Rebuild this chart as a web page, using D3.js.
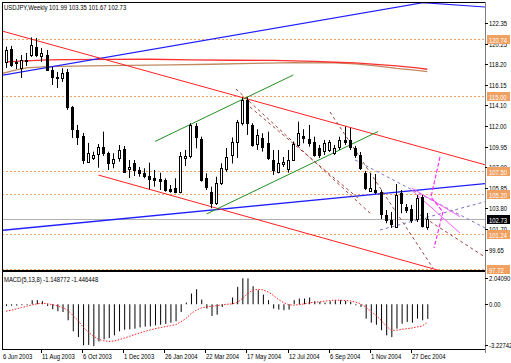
<!DOCTYPE html>
<html><head><meta charset="utf-8">
<script src="https://cdn.jsdelivr.net/npm/d3@7"></script>
<style>body{margin:0;background:#fff}svg{display:block}</style>
</head><body>
<svg id="c" width="511" height="363"></svg>
<script>
// ---------- DATA ----------
const title = "USDJPY,Weekly  101.99 103.35 101.67 102.73";
const openP  = [118.46,119.73,118.43,117.83,118.48,119.13,119.96,119.03,119.13,117.63,116.88,116.80,117.43,113.91,111.64,111.04,108.47,108.87,109.24,109.91,109.31,108.37,108.81,109.71,107.71,108.37,107.64,107.37,107.04,106.84,106.71,106.64,105.71,105.81,105.47,108.81,109.04,112.04,110.71,106.81,105.47,104.32,106.31,107.71,109.14,110.47,112.31,114.64,112.14,110.24,110.81,110.37,108.64,107.47,108.24,107.71,108.64,110.14,111.04,110.71,110.47,109.81,109.57,109.64,109.31,109.91,110.64,110.64,109.84,109.14,107.34,105.54,105.64,105.47,103.15,102.65,101.98,105.31,103.95,103.75,102.75,104.94,101.99];
const highP  = [119.96,120.03,118.73,119.13,119.33,120.88,120.83,119.83,119.63,117.93,117.43,117.80,117.73,114.04,112.14,111.34,110.34,109.47,110.24,111.47,109.47,109.31,110.14,110.04,108.64,108.64,107.94,107.81,108.37,107.64,107.37,106.81,106.14,106.81,109.44,109.64,112.31,112.31,110.97,107.31,105.97,106.97,108.31,109.84,110.89,112.64,114.88,114.90,112.31,111.71,111.31,111.47,109.64,109.64,108.94,109.64,110.47,112.47,111.71,112.14,110.97,110.14,110.64,110.64,110.14,110.97,111.97,111.84,110.04,109.44,107.54,107.31,107.24,105.64,103.65,103.45,106.24,105.64,104.25,104.15,105.14,105.14,103.35];
const lowP   = [117.83,117.93,117.73,116.83,118.03,118.93,118.93,118.43,117.53,116.13,115.83,116.43,113.64,110.84,110.14,108.24,108.34,108.64,107.87,109.04,107.64,107.81,108.47,107.34,106.84,107.04,106.97,106.81,105.71,105.97,105.64,105.47,105.37,105.31,105.31,108.04,108.81,109.81,106.47,105.64,103.82,104.15,106.14,107.47,108.29,108.84,112.09,111.14,109.97,109.64,109.47,108.64,107.14,107.31,107.94,107.37,108.57,109.97,110.31,109.97,108.97,108.84,109.14,109.44,109.14,109.64,110.14,109.64,108.84,107.64,105.64,105.44,105.24,102.75,102.32,101.85,101.90,103.32,103.35,102.35,102.45,101.90,101.67];
const closeP = [119.63,118.13,118.28,118.63,118.58,120.13,119.13,119.30,117.63,116.96,116.80,117.36,113.94,111.71,110.91,108.64,109.37,109.14,109.91,109.37,108.37,108.71,109.64,107.47,107.97,107.64,107.37,107.04,106.71,106.64,106.57,105.64,105.54,105.47,109.04,109.04,112.14,110.94,106.64,105.91,104.38,106.37,107.81,108.97,110.44,112.39,114.59,112.31,110.14,111.14,109.91,108.81,107.64,108.37,108.47,108.64,110.24,111.37,110.81,110.37,109.14,109.14,110.31,110.47,109.87,110.64,110.44,109.94,109.14,107.84,105.84,105.89,105.44,103.25,102.65,102.20,105.14,104.32,103.60,102.65,104.84,102.00,102.73];

const macdMain = [-0.13,-0.11,-0.11,-0.08,-0.05,0.32,0.32,0.24,-0.13,-0.39,-0.55,-0.61,-1.26,-2.13,-2.58,-3.23,-3.20,-3.29,-2.92,-2.76,-2.66,-2.45,-2.13,-2.00,-1.97,-1.92,-1.82,-1.76,-1.74,-1.66,-1.61,-1.55,-1.45,-1.34,-0.61,0.13,0.84,1.18,0.37,-0.34,-0.92,-0.82,-0.21,0.00,0.53,1.37,2.04,2.03,1.42,1.11,0.76,0.32,-0.34,-0.42,-0.47,-0.42,0.32,0.45,0.45,0.53,0.24,0.18,0.13,0.24,0.32,0.32,0.26,0.18,-0.08,-0.21,-1.13,-1.45,-1.61,-2.05,-2.45,-2.58,-1.92,-1.53,-1.39,-1.45,-1.13,-1.26,-1.149];
const macdSignal = [-0.55,-0.47,-0.37,-0.26,-0.16,-0.05,0.03,0.08,0.05,-0.03,-0.13,-0.26,-0.47,-0.87,-1.26,-1.79,-2.18,-2.50,-2.76,-2.87,-2.92,-2.89,-2.79,-2.66,-2.53,-2.39,-2.26,-2.13,-2.03,-1.92,-1.84,-1.76,-1.68,-1.61,-1.39,-1.13,-0.74,-0.47,-0.29,-0.21,-0.16,-0.11,-0.05,0.00,0.03,0.13,0.45,0.84,1.11,1.18,1.13,0.97,0.71,0.39,0.13,-0.03,-0.08,-0.03,0.03,0.11,0.16,0.18,0.24,0.29,0.32,0.32,0.29,0.26,0.18,0.05,-0.21,-0.55,-0.87,-1.26,-1.71,-2.05,-2.05,-1.97,-1.92,-1.87,-1.79,-1.71,-1.446];
const macdLabel = "MACD(5,13,8)  -1.148772  -1.446448";

// moving averages, read at sampled bars [barIndex, price]
const maRed   = [[0,118.43],[4,118.53],[8,118.63],[12,118.66],[20,118.68],[28,118.70],[36,118.63],[44,118.60],[52,118.58],[60,118.48],[64,118.40],[68,118.33],[72,118.18],[76,118.03],[80,117.83],[82,117.70]];
const maBrown = [[-1,117.25],[2,117.63],[4,117.83],[8,117.96],[16,118.03],[24,118.08],[32,118.13],[40,118.20],[48,118.28],[56,118.36],[64,118.33],[68,118.23],[72,118.03],[76,117.78],[80,117.58],[82,117.46]];

// trend lines [barIndex, price]
const blueUpper  = [[-0.78,117.10],[81.16,124.35],[93.23,123.92]];
const blueLower  = [[-0.78,101.61],[93.23,106.28]];
const redUpper   = [[-0.78,121.52],[93.23,108.16]];
const redLower   = [[17.96,107.14],[84.47,97.58]];
const greenUpper = [[29.0,110.49],[55.92,117.13]];
const greenLower = [[39.06,103.25],[72.40,111.48]];
const darkDashA  = [[44.76,115.73],[71.23,103.15]];
const darkDashB  = [[47.49,113.93],[68.57,104.81]];
const darkDashC  = [[63.06,113.43],[83.11,97.85]];
const darkDashD  = [[80.58,103.15],[93.23,98.95]];
const lavDash1   = [[67.93,108.64],[93.23,101.85]];
const lavDash2   = [[72.79,101.65],[93.23,104.47]];
const pinkZig    = [[84.47,108.94],[82.72,104.94],[85.05,103.45],[83.3,99.85]];
const pinkLine1  = [[78.96,105.84],[88.36,102.98]];
const pinkLine2  = [[78.96,105.64],[88.36,101.35]];

const levels = [120.74, 115.00, 107.50, 105.20, 101.24, 97.72];
const levelText = ["120.74","115.00","107.50","105.20","101.24","97.72"];
const lastPrice = 102.73;
const priceTicks = [122.35,120.25,118.20,116.15,114.10,112.00,109.95,107.90,105.85,103.80,101.70,99.65];
const macdTicks = [2.04090, 0.00, -3.22742];
const macdTickText = ["2.04090","0.00","-3.22742"];
const dateLabels = ["11 Aug 2003","6 Oct 2003","1 Dec 2003","26 Jan 2004","22 Mar 2004","17 May 2004","12 Jul 2004","6 Sep 2004","1 Nov 2004","27 Dec 2004"];
const dateIdx = [7,15,23,31,39,47,55,63,71,79];
const firstDate = "6 Jun 2003";

// ---------- LAYOUT ----------
const svg = d3.select("#c");
const L = 2, R = 485, T = 2, MB = 271, MT = 272, BB = 349;
const FONT = "'Liberation Sans',Arial,sans-serif";
const SX = 0.74;
const x = d3.scaleLinear().domain([0, 82]).range([6, 427.3]);
const y = d3.scaleLinear().domain([99.65, 122.35]).range([250, 22.7]);
const ym = d3.scaleLinear().domain([-3.22742, 2.04090]).range([345.3, 278.3]);

svg.append("rect").attr("width",511).attr("height",363).attr("fill","#fff");
const defs = svg.append("defs");
defs.append("clipPath").attr("id","mainclip").append("rect").attr("x",L+1).attr("y",T+1).attr("width",R-L-1).attr("height",MB-T-2);
defs.append("clipPath").attr("id","macdclip").append("rect").attr("x",L+1).attr("y",MT+1).attr("width",R-L-1).attr("height",BB-MT-1);

const main = svg.append("g").attr("clip-path","url(#mainclip)");
const line = d3.line().x(d=>x(d[0])).y(d=>y(d[1]));

main.selectAll(".lvl").data(levels).join("line")
  .attr("x1",L).attr("x2",R).attr("y1",d=>Math.round(y(d))+0.5).attr("y2",d=>Math.round(y(d))+0.5)
  .attr("stroke","#f0a060").attr("stroke-dasharray","2,2").attr("stroke-width",1);
main.append("line").attr("x1",L).attr("x2",R).attr("y1",Math.round(y(lastPrice))+0.5).attr("y2",Math.round(y(lastPrice))+0.5)
  .attr("stroke","#b0b0b0");

function draw(pts, color, dash, w){
  main.append("path").attr("d", line(pts)).attr("fill","none").attr("stroke",color)
    .attr("stroke-width", w||1).attr("stroke-dasharray", dash||null);
}
draw(maBrown, "#c08a60", null, 1.3);
draw(maRed, "#ff3030", null, 1.3);
draw(blueUpper, "#2020ff", null, 1.2);
draw(blueLower, "#2020ff", null, 1.3);
draw(redUpper, "#ff2020", null, 1);
draw(redLower, "#ff2020", null, 1);
draw(greenUpper, "#209020", null, 1);
draw(greenLower, "#209020", null, 1);
draw(darkDashA, "#a04040", "3,3", 1);
draw(darkDashB, "#a04040", "3,3", 1);
draw(darkDashC, "#a04040", "3,3", 1);
draw(darkDashD, "#a04040", "3,3", 1);
draw(lavDash1, "#8070c0", "3,3", 1);
draw(lavDash2, "#8070c0", "3,3", 1);
draw(pinkLine1, "#ff60ff", null, 1);
draw(pinkLine2, "#ff60ff", null, 1);
draw(pinkZig, "#ff30ff", "4,2", 1.2);

const idx = d3.range(openP.length);
const cg = main.append("g");
idx.forEach(i=>{
  const c = Math.floor(x(i));
  const up = closeP[i] >= openP[i];
  cg.append("line").attr("x1",c+0.5).attr("x2",c+0.5).attr("y1",y(highP[i])).attr("y2",y(lowP[i])).attr("stroke","#000");
  const top = Math.round(y(Math.max(openP[i],closeP[i]))), bot = Math.round(y(Math.min(openP[i],closeP[i])));
  cg.append("rect").attr("x",c-0.5).attr("y",top+0.5).attr("width",2).attr("height",Math.max(bot-top,0.01))
    .attr("fill", up?"#fff":"#000").attr("stroke","#000");
});

const mg = svg.append("g").attr("clip-path","url(#macdclip)");
idx.forEach(i=>{
  mg.append("line").attr("x1",x(i)+0.5).attr("x2",x(i)+0.5).attr("y1",ym(0)).attr("y2",ym(macdMain[i]))
    .attr("stroke","#000").attr("stroke-width",1);
});
mg.append("path").attr("d", d3.line().x((d,i)=>x(i)).y(d=>ym(d))(macdSignal))
  .attr("fill","none").attr("stroke","#ff2020").attr("stroke-dasharray","1.5,1.5").attr("stroke-width",1);

svg.append("line").attr("x1",L+0.5).attr("x2",L+0.5).attr("y1",T).attr("y2",BB).attr("stroke","#000");
svg.append("line").attr("x1",L).attr("x2",R).attr("y1",T+0.5).attr("y2",T+0.5).attr("stroke","#000");
svg.append("line").attr("x1",L).attr("x2",R).attr("y1",MB).attr("y2",MB).attr("stroke","#000").attr("stroke-width",2);
svg.append("line").attr("x1",L).attr("x2",R).attr("y1",BB+0.5).attr("y2",BB+0.5).attr("stroke","#000");
svg.append("line").attr("x1",R+0.5).attr("x2",R+0.5).attr("y1",T).attr("y2",BB+4).attr("stroke","#808080");

const tx = (t,xx,yy,col)=>svg.append("text").attr("transform",`translate(${xx},${yy}) scale(${SX},1)`).text(t)
  .attr("font-family",FONT).attr("font-size",8).attr("fill",col||"#000");
tx(title, 4, 10);
tx(macdLabel, 4, 282);

priceTicks.forEach(p=>{
  const yy = Math.round(y(p));
  svg.append("line").attr("x1",R).attr("x2",R+3).attr("y1",yy+0.5).attr("y2",yy+0.5).attr("stroke","#000");
  tx(p.toFixed(2), R+4, yy+3);
});
levels.forEach((p,k)=>{
  const yy = Math.round(y(p));
  const yb = Math.min(yy-4, MB-6);
  svg.append("rect").attr("x",R+2).attr("y",yb).attr("width",23).attr("height",9).attr("fill","#f0a060");
  tx(levelText[k], R+4, yb+7.5, "#fff");
});
{
  const yy = Math.round(y(lastPrice));
  svg.append("rect").attr("x",R+2).attr("y",yy-4).attr("width",23).attr("height",9).attr("fill","#000");
  tx(lastPrice.toFixed(2), R+4, yy+3.5, "#fff");
}
macdTicks.forEach((v,k)=>{
  const yy = Math.round(ym(v));
  svg.append("line").attr("x1",R).attr("x2",R+3).attr("y1",yy+0.5).attr("y2",yy+0.5).attr("stroke","#000");
  tx(macdTickText[k], R+4, yy+3);
});
tx(firstDate, 3, 359);
dateIdx.forEach((di,k)=>{
  const xx = Math.round(x(di)) - 1;
  svg.append("line").attr("x1",xx+0.5).attr("x2",xx+0.5).attr("y1",BB).attr("y2",BB+4).attr("stroke","#000");
  tx(dateLabels[k], xx+1, 359);
});
</script>
</body></html>
